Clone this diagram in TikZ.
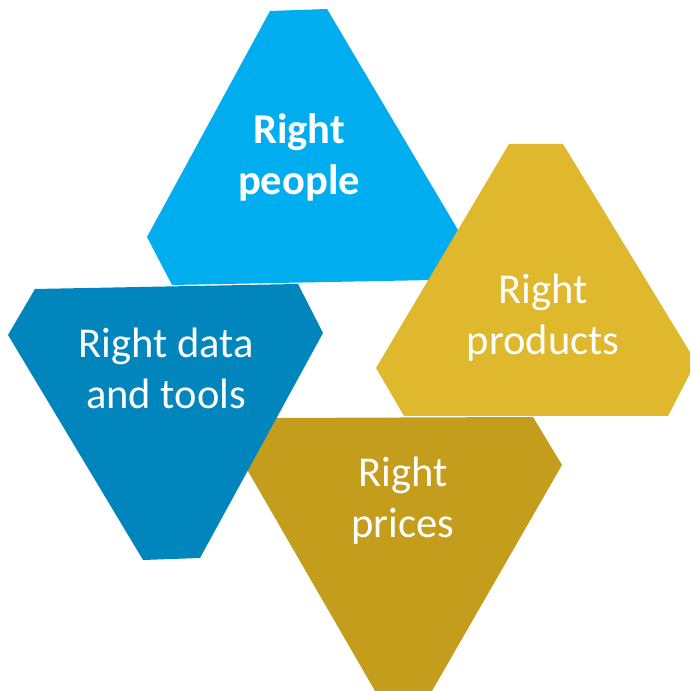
\documentclass[tikz,border=0pt]{standalone}
\usepackage{xcolor}
\usepackage{fontspec}
\setmainfont{Carlito}
\usepackage{tikz}

\definecolor{peopleblue}{HTML}{00AEEF}
\definecolor{toolsblue}{HTML}{0085BD}
\definecolor{productsgold}{HTML}{DFB82E}
\definecolor{pricesgold}{HTML}{C59D1C}

\tikzset{
	facet/.style={text=white, align=center, font=\fontsize{12.1}{14.5}\selectfont}
}

\begin{document}
\begin{tikzpicture}
		\useasboundingbox (0, 0) rectangle (6.90, 6.91);
		\clip (0, 0) rectangle (6.90, 6.91);
		% Picture shapes
		%% Top facet
		\fill[peopleblue] (2.70, 6.80) -- (3.27, 6.82) -- (4.58, 4.61) -- (4.34, 4.11) -- (1.72, 4.06) -- (1.47, 4.54) -- cycle;
		%% Right facet
		\fill[productsgold] (5.09, 5.47) -- (5.63, 5.47) -- (6.96, 3.29) -- (6.68, 2.75) -- (4.04, 2.75) -- (3.76, 3.23) -- cycle;
		%% Bottom facet
		\fill[pricesgold] (2.74, 2.73) -- (5.33, 2.74) -- (5.62, 2.26) -- (4.32, 0.00) -- (3.75, 0.00) -- (2.45, 2.25) -- cycle;
		%% Left facet
		\fill[toolsblue] (0.35, 4.02) -- (2.98, 4.07) -- (3.23, 3.58) -- (2.00, 1.33) -- (1.43, 1.31) -- (0.08, 3.56) -- cycle;
		% Picture labels
		\node[facet, font=\fontsize{12.1}{14.5}\selectfont\bfseries] (people) at (2.99, 5.34) {Right\\people};
		\node[facet] (products) at (5.43, 3.73) {Right\\products};
		\node[facet] (prices) at (4.03, 1.90) {Right\\prices};
		\node[facet] (tools) at (1.66, 3.23) {Right data\\and tools};
	\end{tikzpicture}
\end{document}
